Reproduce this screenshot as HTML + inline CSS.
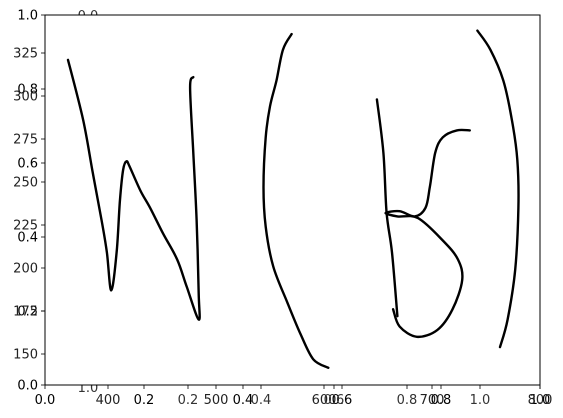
<!DOCTYPE html>
<html><head><meta charset="utf-8"><style>
html,body{margin:0;padding:0;background:#fff;}
svg{display:block;font-family:"DejaVu Sans","Liberation Sans",sans-serif;}
</style></head><body>
<svg id="chart" width="563" height="418" viewBox="0 0 563 418" xmlns="http://www.w3.org/2000/svg">
<g id="under"></g>
<rect x="45" y="15" width="495" height="370" fill="#fff"/>
<g id="strokes"></g>
<rect x="45" y="15" width="495" height="370" fill="none" stroke="#000" stroke-width="1"/>
<g id="ticks"></g>
</svg>
<script>
// data in pixel-space axis units (x 400..800, y 150..325)
const strokeW_x = [363,377,386,394,399,403,408,411,414,417,420,430,439,451,464,473,484,484,482,479,476,479];
const strokeW_y = [321,286,255,228,209,187,209,239,257,262,259,245,235,220,205,189,170,185,228,267,305,311];
const parenL_x = [570,562,556,550,546,544,546,553,566,578,590,604];
const parenL_y = [336,327,309,294,276,247,224,201,180,162,147,142];
const stemB_x = [649,655,658,663,668];
const stemB_y = [298,267,232,209,172];
const bowlB_x = [664,670,686,705,719,728,724,710,687,668,657,670,684,694,698,703,710,723,735];
const bowlB_y = [176,166,160,164,176,193,205,216,229,230,232,233,230,235,247,267,276,280,280];
const parenR_x = [742,754,766,774,779,780,777,770,763];
const parenR_y = [338,327,309,286,263,235,199,170,154];
const pxXTicks = [400,500,600,700,800];
const pxYTicks = [150,175,200,225,250,275,300,325];
const unitTicks = [0,0.2,0.4,0.6,0.8,1.0];
const unitLabels = ["0.0","0.2","0.4","0.6","0.8","1.0"];
const thirdTicks = [0.2,0.4,0.6,0.8,1.0];

const L=45,R=540,T=15,B=385;
const xPx = v => 108 + (v-400)*1.08;
const yPx = v => 354 - (v-150)*1.72;
const xU = v => L + v*(R-L);
const yU = v => B - v*(B-T);
const x3 = v => 115 + v*365;
const NS="http://www.w3.org/2000/svg";
function mk(tag, attrs, parent, txt){const e=document.createElementNS(NS,tag);for(const k in attrs)e.setAttribute(k,attrs[k]);if(txt!==undefined)e.textContent=txt;parent.appendChild(e);return e;}
const under=document.getElementById('under'), strokes=document.getElementById('strokes'), ticks=document.getElementById('ticks');

let t=mk('text',{x:88,y:20,'font-size':13,'text-anchor':'middle',fill:'#333'},under,'0.0');


t=mk('text',{x:88,y:392,'font-size':13,'text-anchor':'middle',fill:'#333'},under,'1.0');



function drawStroke(xs,ys,name){
  const P=xs.map((v,i)=>[xPx(v),yPx(ys[i])]);
  let d='M'+P[0][0].toFixed(1)+','+P[0][1].toFixed(1);
  for(let i=0;i<P.length-1;i++){
    const p0=P[Math.max(0,i-1)],p1=P[i],p2=P[i+1],p3=P[Math.min(P.length-1,i+2)];
    const c1=[p1[0]+(p2[0]-p0[0])/6,p1[1]+(p2[1]-p0[1])/6];
    const c2=[p2[0]-(p3[0]-p1[0])/6,p2[1]-(p3[1]-p1[1])/6];
    d+=' C'+c1[0].toFixed(1)+','+c1[1].toFixed(1)+' '+c2[0].toFixed(1)+','+c2[1].toFixed(1)+' '+p2[0].toFixed(1)+','+p2[1].toFixed(1);
  }
  const p=mk('path',{d:d,fill:'none',stroke:'#000','stroke-width':2.4,'stroke-linejoin':'round','stroke-linecap':'round'},strokes);
  
  
}
drawStroke(strokeW_x,strokeW_y,'letter-w-stroke');
drawStroke(parenL_x,parenL_y,'left-paren-stroke');
drawStroke(stemB_x,stemB_y,'letter-b-stem');
drawStroke(bowlB_x,bowlB_y,'letter-b-bowl');
drawStroke(parenR_x,parenR_y,'right-paren-stroke');

function xtick(px,label,name,col){
  mk('line',{x1:px,x2:px,y1:B,y2:B+4,stroke:'#000','stroke-width':0.8},ticks);
  const e=mk('text',{x:px,y:B+19,'font-size':13,'text-anchor':'middle',fill:col},ticks,label);
  
  
}
function ytick(py,label,name,col){
  mk('line',{x1:L-4,x2:L,y1:py,y2:py,stroke:'#000','stroke-width':0.8},ticks);
  const e=mk('text',{x:L-7,y:py+4.5,'font-size':13,'text-anchor':'end',fill:col},ticks,label);
  
  
}
unitTicks.forEach((v,i)=>{xtick(xU(v),unitLabels[i],'x-unit-tick','#000');ytick(yU(v),unitLabels[i],'y-unit-tick','#000');});
pxXTicks.forEach(v=>xtick(xPx(v),String(v),'x-pixel-tick','#222'));
pxYTicks.forEach(v=>ytick(yPx(v),String(v),'y-pixel-tick','#222'));
thirdTicks.forEach(v=>xtick(x3(v),v.toFixed(1),'x-secondary-tick','#333'));
</script>
</body></html>
